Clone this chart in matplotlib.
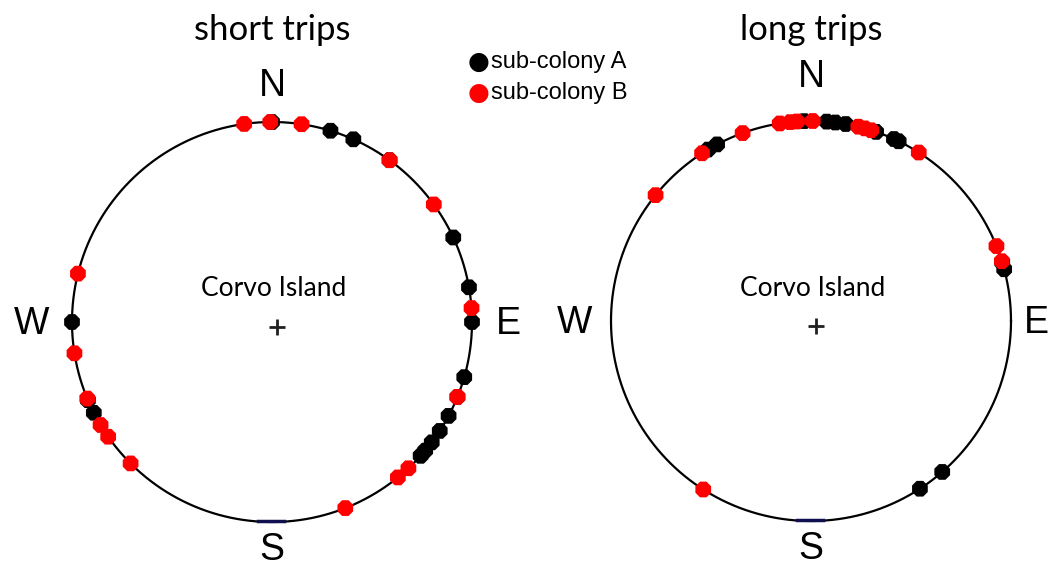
import numpy as np
import matplotlib.pyplot as plt

# bearings in degrees clockwise from north
short_a = [0, 17, 24, 36, 65, 80, 90, 106, 112, 118, 123, 127, 130, 132, 243, 247, 270]
short_b = [352, 359.5, 8.5, 36, 54, 86, 112, 137, 141, 158.5, 225, 235, 239, 247.5, 261, 284]
long_a = [329, 332, 358, 4.5, 7, 10, 19, 24.5, 26, 73, 75, 139, 147]
long_b = [309, 327, 340, 351, 354, 356, 0.5, 13.7, 15.6, 17.5, 32.6, 68, 72.6, 212.6]

panels = ["short trips", "long trips"]
legend_labels = ["sub-colony A", "sub-colony B"]
colors = ["black", "#ff0000"]

W, H = 1048, 570
R = 200.0


def to_xy(bearings):
    b = np.radians(np.asarray(bearings, dtype=float))
    return np.sin(b), np.cos(b)


def draw_panel(cx, cy, title, pts_a, pts_b, off):
    ax = fig.add_axes([(cx - 1.35 * R) / W, (H - cy - 1.4 * R) / H, 2.7 * R / W, 2.8 * R / H])
    ax.set_xlim(-1.35, 1.35)
    ax.set_ylim(-1.4, 1.4)
    ax.axis("off")
    t = np.linspace(0, 2 * np.pi, 400)
    ax.plot(np.cos(t), np.sin(t), color="black", lw=1.6, clip_on=False)
    ax.plot([-0.07, 0.06], [-0.995, -0.995], color="#101050", lw=2.5, clip_on=False)
    for pts, c in zip([pts_a, pts_b], colors):
        x, y = to_xy(pts)
        ax.scatter(x, y, s=150, marker="8", color=c, edgecolors="none", zorder=3, clip_on=False)
    ax.plot(0.025, -0.025, marker="+", ms=12, mew=2, color="#202020")
    ax.text(0.01, 0.165, "Corvo Island", ha="center", va="center", fontsize=19, family="Lato")
    kw = dict(ha="center", va="center", fontsize=27, family="Liberation Sans", clip_on=False)
    ax.text(0, off[0], "N", **kw)
    ax.text(0, -1.14, "S", **kw)
    ax.text(off[1], -0.01, "W", **kw)
    ax.text(off[2], -0.01, "E", **kw)
    fig.text(cx / W, 1 - 30 / H, title, ha="center", va="center", fontsize=25, family="Lato")


fig = plt.figure(figsize=(10.48, 5.70), dpi=100)
draw_panel(272, 322, panels[0], short_a, short_b, (1.18, -1.2, 1.18))
draw_panel(811, 321, panels[1], long_a, long_b, (1.22, -1.18, 1.125))

# legend
for i, (lab, c) in enumerate(zip(legend_labels, colors)):
    y = 1 - (62 + 31 * i) / H
    fig.text(479 / W, y, "\u25cf", color=c, ha="center", va="center", fontsize=18)
    fig.text(491 / W, y, lab, ha="left", va="center", fontsize=17, family="Liberation Sans")

fig.savefig("out.png", dpi=100)
